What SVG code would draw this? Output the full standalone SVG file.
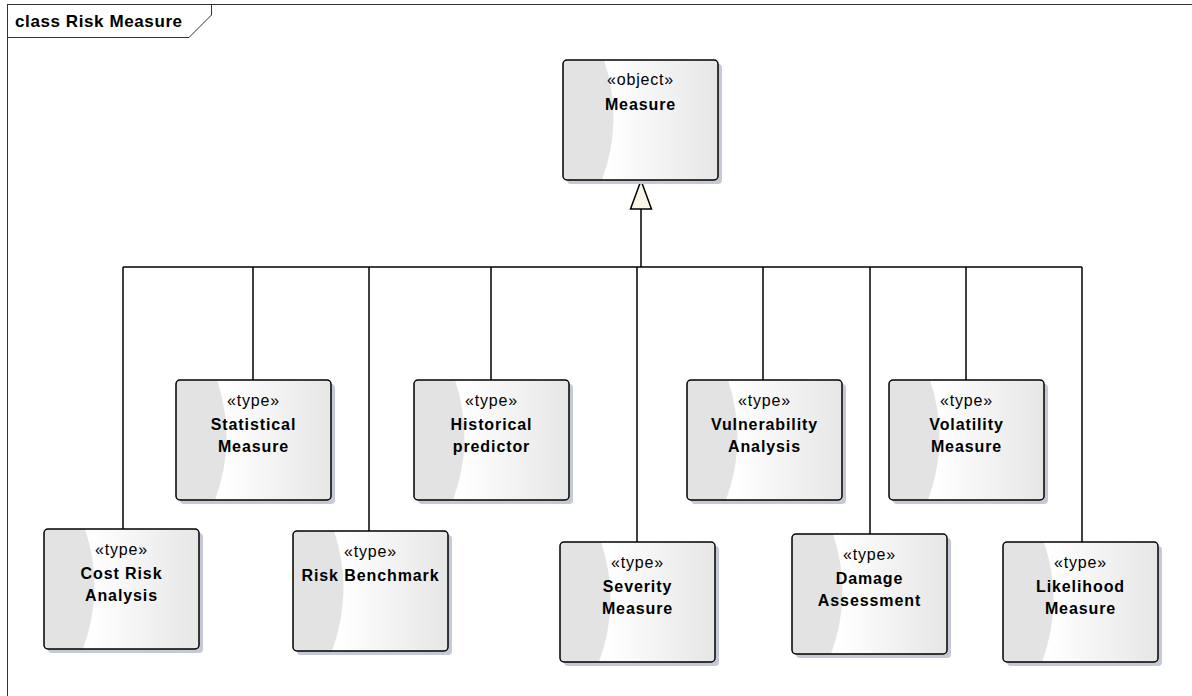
<svg xmlns="http://www.w3.org/2000/svg" xmlns:xlink="http://www.w3.org/1999/xlink" width="1192" height="696" viewBox="0 0 1192 696">
<style>
.frame{fill:none;stroke:#333;stroke-width:1}
.title{font-family:"Liberation Sans",Arial,sans-serif;font-weight:bold;font-size:17px;letter-spacing:0.6px;fill:#000}
.st{font-family:"Liberation Sans",Arial,sans-serif;font-size:16px;letter-spacing:0.8px;fill:#000;text-anchor:middle}
.nm{font-family:"Liberation Sans",Arial,sans-serif;font-weight:bold;font-size:16px;letter-spacing:0.9px;fill:#000;text-anchor:middle}
.conn{fill:none;stroke:#000;stroke-width:1.5}
</style>
<defs>
<linearGradient id="g" x1="0" y1="0" x2="1" y2="0">
<stop offset="0.3" stop-color="#ffffff"/>
<stop offset="1" stop-color="#e6e6e6"/>
</linearGradient>
<clipPath id="cp"><rect x="0" y="0" width="155" height="120" rx="4"/></clipPath>
<g id="box">
<rect x="4" y="4" width="155" height="120" rx="4" fill="#c5c9d6"/>
<rect x="0" y="0" width="155" height="120" rx="4" fill="url(#g)"/>
<path d="M0,0 H41 Q61,60 39,120 H0 Z" fill="#e3e3e3" clip-path="url(#cp)"/>
<rect x="0" y="0" width="155" height="120" rx="4" fill="none" stroke="#000" stroke-width="1.5"/>
</g>
</defs>
<rect x="0" y="0" width="1192" height="696" fill="#fff"/>
<g id="frame">
<rect class="frame" x="7.5" y="4.5" width="1200" height="720"/>
<path class="frame" d="M7.5,37.5 H189 L211.5,15 V4.5"/>
<text class="title" x="15" y="27">class Risk Measure</text>
</g>
<g id="connectors">
<path class="conn" d="M123,267 H1082"/>
<path class="conn" d="M641,209 V267"/>
<path class="conn" d="M123,267 V529"/>
<path class="conn" d="M253,267 V380"/>
<path class="conn" d="M369,267 V531"/>
<path class="conn" d="M491,267 V380"/>
<path class="conn" d="M637,267 V542"/>
<path class="conn" d="M763,267 V380"/>
<path class="conn" d="M870,267 V534"/>
<path class="conn" d="M966,267 V380"/>
<path class="conn" d="M1082,267 V542"/>
<path d="M641,180.5 L630.5,209 H651.5 Z" fill="#fbf4e8" stroke="#000" stroke-width="1.5" stroke-linejoin="miter"/>
</g>
<g id="measure" transform="translate(563,60)">
<use xlink:href="#box"/>
<text class="st" x="77.5" y="25">«object»</text>
<text class="nm" x="77.5" y="50">Measure</text>
</g>
<g id="statistical-measure" transform="translate(176,380)">
<use xlink:href="#box"/>
<text class="st" x="77.5" y="26">«type»</text>
<text class="nm" x="77.5" y="50">Statistical</text>
<text class="nm" x="77.5" y="72">Measure</text>
</g>
<g id="cost-risk-analysis" transform="translate(44,529)">
<use xlink:href="#box"/>
<text class="st" x="77.5" y="26">«type»</text>
<text class="nm" x="77.5" y="50">Cost Risk</text>
<text class="nm" x="77.5" y="72">Analysis</text>
</g>
<g id="risk-benchmark" transform="translate(293,531)">
<use xlink:href="#box"/>
<text class="st" x="77.5" y="26">«type»</text>
<text class="nm" x="77.5" y="50">Risk Benchmark</text>
</g>
<g id="historical-predictor" transform="translate(414,380)">
<use xlink:href="#box"/>
<text class="st" x="77.5" y="26">«type»</text>
<text class="nm" x="77.5" y="50">Historical</text>
<text class="nm" x="77.5" y="72">predictor</text>
</g>
<g id="severity-measure" transform="translate(560,542)">
<use xlink:href="#box"/>
<text class="st" x="77.5" y="26">«type»</text>
<text class="nm" x="77.5" y="50">Severity</text>
<text class="nm" x="77.5" y="72">Measure</text>
</g>
<g id="vulnerability-analysis" transform="translate(687,380)">
<use xlink:href="#box"/>
<text class="st" x="77.5" y="26">«type»</text>
<text class="nm" x="77.5" y="50">Vulnerability</text>
<text class="nm" x="77.5" y="72">Analysis</text>
</g>
<g id="damage-assessment" transform="translate(792,534)">
<use xlink:href="#box"/>
<text class="st" x="77.5" y="26">«type»</text>
<text class="nm" x="77.5" y="50">Damage</text>
<text class="nm" x="77.5" y="72">Assessment</text>
</g>
<g id="volatility-measure" transform="translate(889,380)">
<use xlink:href="#box"/>
<text class="st" x="77.5" y="26">«type»</text>
<text class="nm" x="77.5" y="50">Volatility</text>
<text class="nm" x="77.5" y="72">Measure</text>
</g>
<g id="likelihood-measure" transform="translate(1003,542)">
<use xlink:href="#box"/>
<text class="st" x="77.5" y="26">«type»</text>
<text class="nm" x="77.5" y="50">Likelihood</text>
<text class="nm" x="77.5" y="72">Measure</text>
</g>
</svg>
